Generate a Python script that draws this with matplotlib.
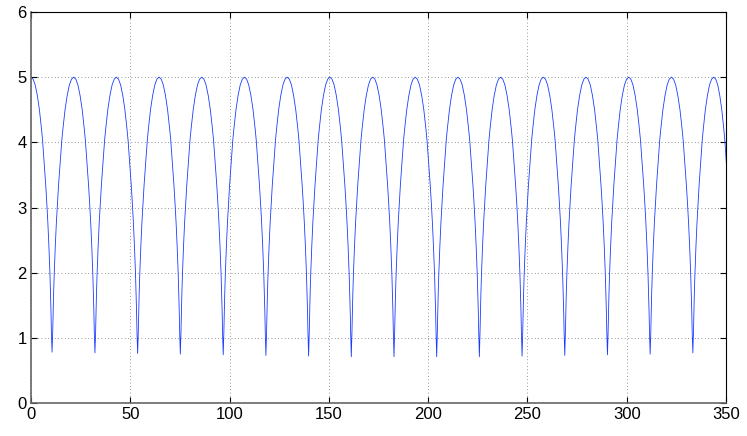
import numpy as np
import matplotlib
matplotlib.use("Agg")
from matplotlib import pyplot as plt

# peak positions (value 5 at each peak)
peak_x = [0.0, 21.5, 43.0, 64.5, 86.0, 107.5, 129.0, 150.5, 172.1,
          193.5, 215.0, 236.5, 258.0, 279.5, 301.0, 322.5, 343.8]
peak_y = 5.0

# trough positions and depths (last one lies just past the axis end)
trough_x = [10.6, 32.2, 53.7, 75.2, 96.8, 118.3, 139.8, 161.3, 182.8,
            204.3, 225.8, 247.3, 268.8, 290.3, 311.8, 333.3, 354.0]
trough_y = [0.78, 0.77, 0.76, 0.75, 0.74, 0.73, 0.72, 0.71, 0.71,
            0.71, 0.71, 0.72, 0.73, 0.74, 0.75, 0.77, 0.78]

# shape of one half-arch: fraction of the way
# from peak to trough -> value
arch_t = [0.0, 0.1, 0.2, 0.3, 0.4, 0.5, 0.55, 0.6, 0.65, 0.7, 0.75,
          0.8, 0.85, 0.9, 0.93, 0.95, 0.97]
arch_y = [5.00, 4.97, 4.88, 4.72, 4.50, 4.20, 4.03, 3.80, 3.58, 3.34,
          3.07, 2.77, 2.41, 1.98, 1.66, 1.40, 1.08]

xs, ys = [], []
for k in range(len(trough_x)):
    p = peak_x[k]
    m = trough_x[k]
    # going down from peak k to trough k
    for t, v in zip(arch_t, arch_y):
        xs.append(p + t * (m - p))
        ys.append(v)
    xs.append(m)
    ys.append(trough_y[k])
    # coming back up to the next peak
    if k + 1 < len(peak_x):
        q = peak_x[k + 1]
        for t, v in zip(arch_t[::-1], arch_y[::-1]):
            xs.append(q - t * (q - m))
            ys.append(v)

plt.rcParams['font.family'] = ['Liberation Sans Narrow', 'Liberation Sans', 'DejaVu Sans']

fig = plt.figure(figsize=(7.47, 4.36), dpi=100)
ax = fig.add_axes([31 / 747, 33 / 436, 695 / 747, 391 / 436])

ax.plot(xs, ys, color='#1a3cff', lw=0.6)

ax.set_xlim(0, 350)
ax.set_ylim(0, 6)
ax.set_xticks(np.arange(0, 351, 50))
ax.set_yticks(np.arange(0, 7, 1))

ax.grid(True, linestyle=(0, (1, 3)), color='#777777', lw=0.6)
ax.tick_params(direction='in', length=4, width=0.8, top=True, right=True,
               labelsize=12, pad=3, colors='black')
for side in ['top', 'right']:
    ax.spines[side].set_linewidth(0.8)
    ax.spines[side].set_color('black')
for side in ['left', 'bottom']:
    ax.spines[side].set_linewidth(1.2)
    ax.spines[side].set_color('#666666')

fig.savefig("out.png", dpi=100)
